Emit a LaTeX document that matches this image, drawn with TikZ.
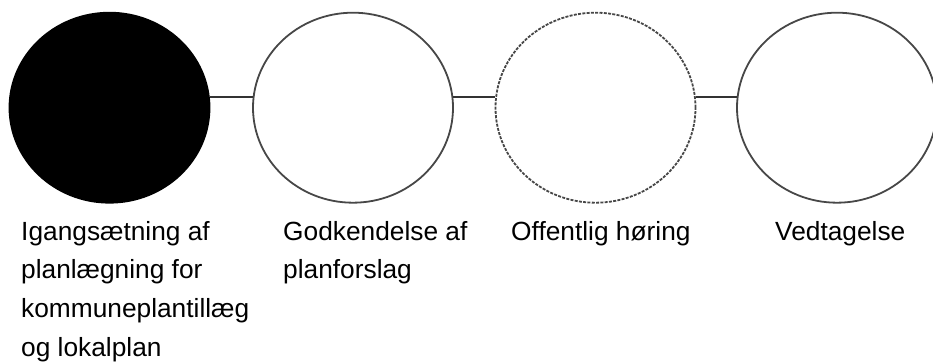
\documentclass[tikz,border=0pt]{standalone}
\usepackage{fontspec}
\setmainfont{Liberation Sans}
\usetikzlibrary{shapes.geometric}
\begin{document}
\begin{tikzpicture}[x=1pt,y=-1pt,
  stage/.style={ellipse,draw=black!72,line width=1.8pt,inner sep=0pt,minimum width=200pt,minimum height=190pt},
  link/.style={draw=black!80,line width=1.7pt},
  lbl/.style={anchor=north west,inner sep=0pt,align=left,font=\fontsize{26.3}{38.7}\selectfont}]
\useasboundingbox (0,0) rectangle (933,363);
\node[stage,fill=black,draw=black] (s1) at (109.5,107.7) {};
\node[stage] (s2) at (353,107.7) {};
\node[stage,dash pattern=on 3pt off 1.3pt] (s3) at (595.5,107.7) {};
\node[stage] (s4) at (837,107.7) {};
\draw[link] (s1.6) -- (s2.174);
\draw[link] (s2.6) -- (s3.174);
\draw[link] (s3.6) -- (s4.174);
\node[lbl] (t1) at (21,221) {Igangsætning af\\planlægning for\\kommuneplantillæg\\og lokalplan};
\node[lbl] (t2) at (283,221) {Godkendelse af\\planforslag};
\node[lbl] (t3) at (511,221) {Offentlig høring};
\node[lbl] (t4) at (775,221) {Vedtagelse};
\end{tikzpicture}
\end{document}
